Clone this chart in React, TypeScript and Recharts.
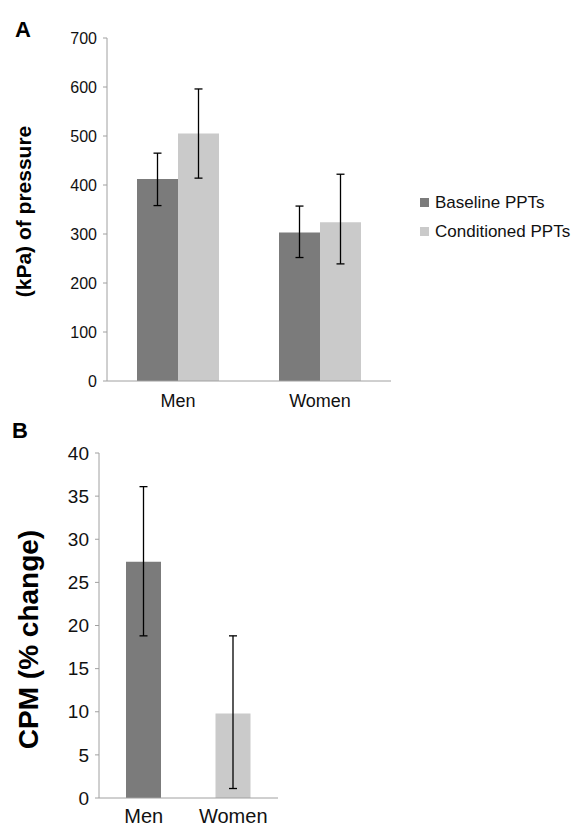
import React from 'react';
import { BarChart, Bar, XAxis, YAxis, ErrorBar, Cell, Legend } from 'recharts';

const FONT = '"Liberation Sans", Arial, sans-serif';
const DARK = '#7b7b7b';
const LIGHT = '#cacaca';
const AXIS = '#a0a0a0';

// Panel A: pain pressure thresholds (kPa)
const categories = ['Men', 'Women'];
const baselinePPT = [412, 303];
const baselineLow = [358, 252];
const baselineHigh = [465, 357];
const conditionedPPT = [505, 324];
const conditionedLow = [414, 239];
const conditionedHigh = [596, 422];
const ticksA = [0, 100, 200, 300, 400, 500, 600, 700];

// Panel B: CPM (% change)
const cpm = [27.4, 9.8];
const cpmLow = [18.8, 1.1];
const cpmHigh = [36.1, 18.8];
const ticksB = [0, 5, 10, 15, 20, 25, 30, 35, 40];

const dataA = categories.map((name, i) => ({
  name,
  baseline: baselinePPT[i],
  baselineErr: [baselinePPT[i] - baselineLow[i], baselineHigh[i] - baselinePPT[i]],
  conditioned: conditionedPPT[i],
  conditionedErr: [conditionedPPT[i] - conditionedLow[i], conditionedHigh[i] - conditionedPPT[i]],
}));

const dataB = categories.map((name, i) => ({
  name,
  cpm: cpm[i],
  cpmErr: [cpm[i] - cpmLow[i], cpmHigh[i] - cpm[i]],
}));

function AxisTitle({ viewBox, value, x, shift, size }: any) {
  const cy = viewBox.y + viewBox.height / 2 + shift;
  return (
    <text
      x={x}
      y={cy}
      transform={`rotate(-90, ${x}, ${cy})`}
      textAnchor="middle"
      dominantBaseline="central"
      fontFamily={FONT}
      fontWeight="bold"
      fontSize={size}
      fill="#000"
    >
      {value}
    </text>
  );
}

function LegendBox({ payload }: any) {
  return (
    <div style={{ fontFamily: FONT, fontSize: 17, color: '#111' }}>
      {(payload || []).map((e: any) => (
        <div key={e.value} style={{ display: 'flex', alignItems: 'center', height: 29, whiteSpace: 'nowrap' }}>
          <span style={{ width: 9, height: 9, background: e.color, marginRight: 6, display: 'inline-block' }} />
          {e.value}
        </div>
      ))}
    </div>
  );
}

const panelLetter: React.CSSProperties = {
  position: 'absolute',
  fontFamily: FONT,
  fontWeight: 'bold',
  fontSize: 22,
  lineHeight: '22px',
  color: '#000',
};

export default function App() {
  return (
    <div style={{ position: 'absolute', left: 0, top: 0, width: 585, height: 829, background: '#fff' }}>
      <div style={{ ...panelLetter, left: 15, top: 19 }}>A</div>
      <div style={{ ...panelLetter, left: 12, top: 420 }}>B</div>

      <div style={{ position: 'absolute', left: 0, top: 0 }}>
        <BarChart width={585} height={410} data={dataA} margin={{ top: 38, right: 194, left: 0, bottom: 0 }} barGap={0}>
          <XAxis
            dataKey="name"
            height={29}
            stroke={AXIS}
            tickLine={false}
            tickSize={6}
            tickMargin={7}
            tick={{ fill: '#111', fontSize: 18, fontFamily: FONT }}
          />
          <YAxis
            width={107}
            domain={[0, 700]}
            ticks={ticksA}
            stroke={AXIS}
            tickSize={4}
            tickMargin={6}
            tick={{ fill: '#111', fontSize: 16, fontFamily: FONT }}
            label={{ content: (p: any) => <AxisTitle {...p} value="(kPa) of pressure" x={23} shift={2} size={21} /> }}
          />
          <Legend
            layout="horizontal"
            align="center"
            verticalAlign="middle"
            content={<LegendBox />}
            wrapperStyle={{ left: 420, top: 188, width: 165 }}
          />
          <Bar dataKey="baseline" name="Baseline PPTs" fill={DARK} barSize={41} isAnimationActive={false}>
            <ErrorBar dataKey="baselineErr" width={4} stroke="#000" strokeWidth={1.3} />
          </Bar>
          <Bar dataKey="conditioned" name="Conditioned PPTs" fill={LIGHT} barSize={41} isAnimationActive={false}>
            <ErrorBar dataKey="conditionedErr" width={4} stroke="#000" strokeWidth={1.3} />
          </Bar>
        </BarChart>
      </div>

      <div style={{ position: 'absolute', left: 0, top: 410 }}>
        <BarChart width={585} height={419} data={dataB} margin={{ top: 43, right: 307, left: 0, bottom: 0 }}>
          <XAxis
            dataKey="name"
            height={31}
            stroke={AXIS}
            tickLine={false}
            tickSize={6}
            tickMargin={5}
            tick={{ fill: '#111', fontSize: 20, fontFamily: FONT }}
          />
          <YAxis
            width={99}
            domain={[0, 40]}
            ticks={ticksB}
            stroke={AXIS}
            tickSize={4}
            tickMargin={6}
            tick={{ fill: '#111', fontSize: 19, fontFamily: FONT }}
            label={{ content: (p: any) => <AxisTitle {...p} value="CPM (% change)" x={28} shift={14} size={28} /> }}
          />
          <Bar dataKey="cpm" barSize={35} isAnimationActive={false}>
            {dataB.map((d, i) => (
              <Cell key={d.name} fill={i === 0 ? DARK : LIGHT} />
            ))}
            <ErrorBar dataKey="cpmErr" width={4} stroke="#000" strokeWidth={1.3} />
          </Bar>
        </BarChart>
      </div>
    </div>
  );
}
